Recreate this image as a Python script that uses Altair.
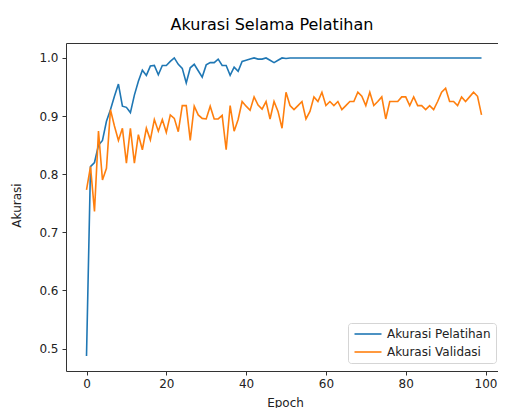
import altair as alt
import pandas as pd

epochs = list(range(100))

train_acc = [
    0.487, 0.813, 0.820, 0.850, 0.858, 0.891, 0.911, 0.934, 0.955, 0.917,
    0.915, 0.906, 0.936, 0.960, 0.979, 0.970, 0.986, 0.987, 0.971, 0.987,
    0.987, 0.994, 1.000, 0.989, 0.982, 0.957, 0.983, 0.989, 0.978, 0.967,
    0.988, 0.992, 0.992, 0.998, 0.987, 0.987, 0.970, 0.984, 0.977, 0.994,
    0.996, 0.998, 1.000, 0.998, 0.998, 1.000, 0.996, 0.992, 0.996, 1.000,
    0.999, 1.000, 1.000, 1.000, 1.000, 1.000, 1.000, 1.000, 1.000, 1.000,
    1.000, 1.000, 1.000, 1.000, 1.000, 1.000, 1.000, 1.000, 1.000, 1.000,
    1.000, 1.000, 1.000, 1.000, 1.000, 1.000, 1.000, 1.000, 1.000, 1.000,
    1.000, 1.000, 1.000, 1.000, 1.000, 1.000, 1.000, 1.000, 1.000, 1.000,
    1.000, 1.000, 1.000, 1.000, 1.000, 1.000, 1.000, 1.000, 1.000, 1.000,
]

val_acc = [
    0.773, 0.813, 0.736, 0.874, 0.790, 0.810, 0.911, 0.883, 0.858, 0.879,
    0.819, 0.879, 0.819, 0.868, 0.842, 0.879, 0.859, 0.894, 0.874, 0.894,
    0.872, 0.902, 0.896, 0.873, 0.918, 0.918, 0.858, 0.917, 0.902, 0.896,
    0.895, 0.917, 0.895, 0.895, 0.901, 0.842, 0.918, 0.874, 0.894, 0.925,
    0.917, 0.910, 0.933, 0.919, 0.912, 0.925, 0.895, 0.925, 0.908, 0.879,
    0.941, 0.918, 0.911, 0.918, 0.925, 0.895, 0.908, 0.933, 0.925, 0.941,
    0.918, 0.925, 0.918, 0.925, 0.911, 0.918, 0.925, 0.925, 0.941, 0.934,
    0.918, 0.941, 0.918, 0.925, 0.933, 0.895, 0.925, 0.925, 0.925, 0.933,
    0.933, 0.918, 0.933, 0.918, 0.918, 0.911, 0.918, 0.911, 0.925, 0.941,
    0.948, 0.925, 0.925, 0.918, 0.933, 0.925, 0.933, 0.941, 0.934, 0.902,
]

series_names = ["Akurasi Pelatihan", "Akurasi Validasi"]
series_colors = ["#1f77b4", "#ff7f0e"]
x_ticks = [0, 20, 40, 60, 80, 100]
y_ticks = [0.5, 0.6, 0.7, 0.8, 0.9, 1.0]

df = pd.DataFrame({
    "Epoch": epochs + epochs,
    "Akurasi": train_acc + val_acc,
    "Seri": [series_names[0]] * len(epochs) + [series_names[1]] * len(epochs),
})

FONT = "DejaVu Sans"
x_scale = alt.Scale(domain=[-5.14, 103.13], nice=False, zero=False)
y_scale = alt.Scale(domain=[0.4613, 1.0257], nice=False, zero=False)

lines = alt.Chart(df).mark_line(strokeWidth=1.6, clip=True).encode(
    x=alt.X("Epoch:Q", scale=x_scale,
            axis=alt.Axis(values=x_ticks, format="d", title="Epoch",
                          titleX=219, titleY=35, titleBaseline="alphabetic",
                          labelPadding=3)),
    y=alt.Y("Akurasi:Q", scale=y_scale,
            axis=alt.Axis(values=y_ticks, format=".1f", title="Akurasi",
                          titleX=-50, titleY=162, titleBaseline="middle",
                          titleAngle=270, labelPadding=4)),
    color=alt.Color("Seri:N",
                    scale=alt.Scale(domain=series_names, range=series_colors),
                    legend=alt.Legend(title=None, orient="none",
                                      legendX=282, legendY=280,
                                      symbolType="M-3,0H3", symbolSize=81,
                                      symbolStrokeWidth=1.6, symbolOffset=9,
                                      labelOffset=13, labelFontSize=12,
                                      labelFont=FONT, labelColor="#222",
                                      padding=5, rowPadding=6,
                                      strokeColor="#d5d5d5", fillColor="white",
                                      cornerRadius=3)),
)

top_spine = alt.Chart(df).mark_line(opacity=0).encode(
    x=alt.X("Epoch:Q", scale=x_scale,
            axis=alt.Axis(orient="top", labels=False, ticks=False, title=None)),
    y=alt.Y("Akurasi:Q", scale=y_scale, axis=None),
)

chart = alt.layer(lines, top_spine).resolve_axis(
    x="independent", y="independent"
).properties(
    width=432,
    height=328,
    autosize="none",
    padding={"left": 58, "top": 35, "right": 0, "bottom": 37},
    title=alt.TitleParams("Akurasi Selama Pelatihan", fontSize=16, font=FONT,
                          fontWeight="normal", color="black", anchor="middle",
                          dx=-10, offset=10),
).configure_view(
    strokeWidth=0
).configure_axis(
    grid=False,
    domainColor="#333",
    domainWidth=1,
    tickColor="#333",
    tickSize=4,
    labelFont=FONT,
    labelFontSize=12,
    labelColor="#222",
    titleFont=FONT,
    titleFontSize=12,
    titleFontWeight="normal",
    titleColor="#222",
)

chart.save("out.html", embed_options={"renderer": "svg", "actions": False})
